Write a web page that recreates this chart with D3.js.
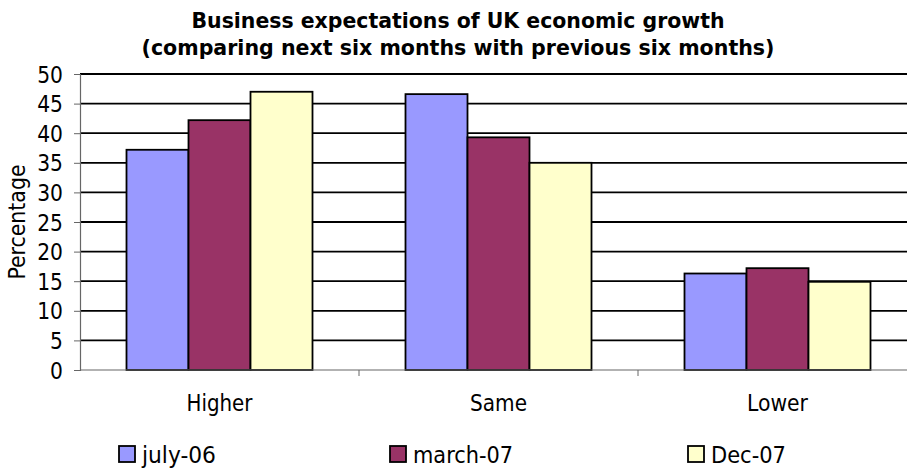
<!DOCTYPE html>
<html>
<head>
<meta charset="utf-8">
<script src="https://cdn.jsdelivr.net/npm/d3@7/dist/d3.min.js"></script>
<style>
  html, body { margin: 0; padding: 0; background: #fff; }
  svg { display: block; }
  text { font-family: "DejaVu Sans Condensed", "DejaVu Sans", sans-serif; font-stretch: condensed; fill: #000; }
</style>
</head>
<body>
<svg id="chart" width="907" height="468"></svg>
<script>
// Survey responses (% of businesses)
const categories = ["Higher", "Same", "Lower"];
const seriesNames = ["july-06", "march-07", "Dec-07"];
const july06 = [37.2, 46.6, 16.3];
const march07 = [42.2, 39.3, 17.2];
const dec07 = [47.0, 35.0, 14.9];
const yTicks = [0, 5, 10, 15, 20, 25, 30, 35, 40, 45, 50];
const titleLines = [
  "Business expectations of UK economic growth",
  "(comparing next six months with previous six months)"
];
const yAxisTitle = "Percentage";

const seriesValues = [july06, march07, dec07];
const colors = ["#9999FF", "#993366", "#FFFFCC"];

const svg = d3.select("#chart");
const plot = { left: 80, right: 917, top: 74, bottom: 370 };

const x0 = d3.scaleBand().domain(categories).range([plot.left, plot.right]).padding(0);
const x1 = d3.scaleBand().domain(seriesNames).range([0, x0.bandwidth()])
  .paddingInner(0).paddingOuter(0.75);
const y = d3.scaleLinear().domain([0, 50]).range([plot.bottom, plot.top]);

// Title
const titleWidths = [533, 633];
const titleBaselines = [28, 55];
svg.append("g").selectAll("text").data(titleLines).join("text")
  .attr("x", 458)
  .attr("y", (d, i) => titleBaselines[i])
  .attr("text-anchor", "middle")
  .attr("font-size", 21)
  .attr("font-weight", "bold")
  .attr("textLength", (d, i) => titleWidths[i])
  .attr("lengthAdjust", "spacingAndGlyphs")
  .text(d => d);

// Horizontal gridlines
svg.append("g").selectAll("line").data(yTicks.filter(t => t > 0)).join("line")
  .attr("x1", plot.left).attr("x2", plot.right)
  .attr("y1", d => y(d)).attr("y2", d => y(d))
  .attr("stroke", "#000").attr("stroke-width", 1.8);

// Bars
const rows = categories.map((c, i) => ({
  cat: c,
  vals: seriesNames.map((s, j) => ({ s, v: seriesValues[j][i], color: colors[j] }))
}));
svg.append("g").selectAll("g").data(rows).join("g")
  .attr("transform", d => `translate(${x0(d.cat)},0)`)
  .selectAll("rect").data(d => d.vals).join("rect")
  .attr("x", d => x1(d.s))
  .attr("y", d => y(d.v))
  .attr("width", x1.bandwidth())
  .attr("height", d => y(0) - y(d.v))
  .attr("fill", d => d.color)
  .attr("stroke", "#000")
  .attr("stroke-width", 1.8);

// Y axis
const yAxis = d3.axisLeft(y).tickValues(yTicks).tickSize(6).tickPadding(11).tickFormat(d3.format("d"));
const gy = svg.append("g").attr("transform", `translate(${plot.left},0)`).call(yAxis);
gy.select(".domain").attr("stroke", "#666").attr("stroke-width", 1.2);
gy.selectAll(".tick line").attr("stroke", "#666");
gy.selectAll(".tick text")
  .attr("font-size", 22.5)
  .attr("font-family", null)
  .attr("dy", "0.36em");

// X axis: ticks at category boundaries, labels centered under each group
const gx = svg.append("g").attr("transform", `translate(0,${plot.bottom})`);
gx.append("line").attr("x1", plot.left).attr("x2", plot.right)
  .attr("y1", 0).attr("y2", 0).attr("stroke", "#666").attr("stroke-width", 1.2);
gx.selectAll("line.tk").data(categories.slice(1)).join("line")
  .attr("class", "tk")
  .attr("x1", d => x0(d)).attr("x2", d => x0(d))
  .attr("y1", 0).attr("y2", 6)
  .attr("stroke", "#666");
const catWidths = [66, 57, 61];
gx.selectAll("text").data(categories).join("text")
  .attr("x", d => x0(d) + x0.bandwidth() / 2)
  .attr("y", 41)
  .attr("text-anchor", "middle")
  .attr("font-size", 22.5)
  .attr("textLength", (d, i) => catWidths[i])
  .attr("lengthAdjust", "spacingAndGlyphs")
  .text(d => d);

// Y axis title
svg.append("text")
  .attr("transform", `translate(25,${(plot.top + plot.bottom) / 2}) rotate(-90)`)
  .attr("text-anchor", "middle")
  .attr("font-size", 22.5)
  .attr("textLength", 115)
  .attr("lengthAdjust", "spacingAndGlyphs")
  .text(yAxisTitle);

// Legend
const legendX = [119, 390, 688];
const legendTextW = [74, 100, 75];
const lg = svg.append("g").selectAll("g").data(seriesNames).join("g")
  .attr("transform", (d, i) => `translate(${legendX[i]},446)`);
lg.append("rect")
  .attr("x", 0).attr("y", 0).attr("width", 16).attr("height", 16)
  .attr("fill", (d, i) => colors[i])
  .attr("stroke", "#000").attr("stroke-width", 1.8);
lg.append("text")
  .attr("x", 23).attr("y", 17)
  .attr("font-size", 22.5)
  .attr("textLength", (d, i) => legendTextW[i])
  .attr("lengthAdjust", "spacingAndGlyphs")
  .text(d => d);
</script>
</body>
</html>
